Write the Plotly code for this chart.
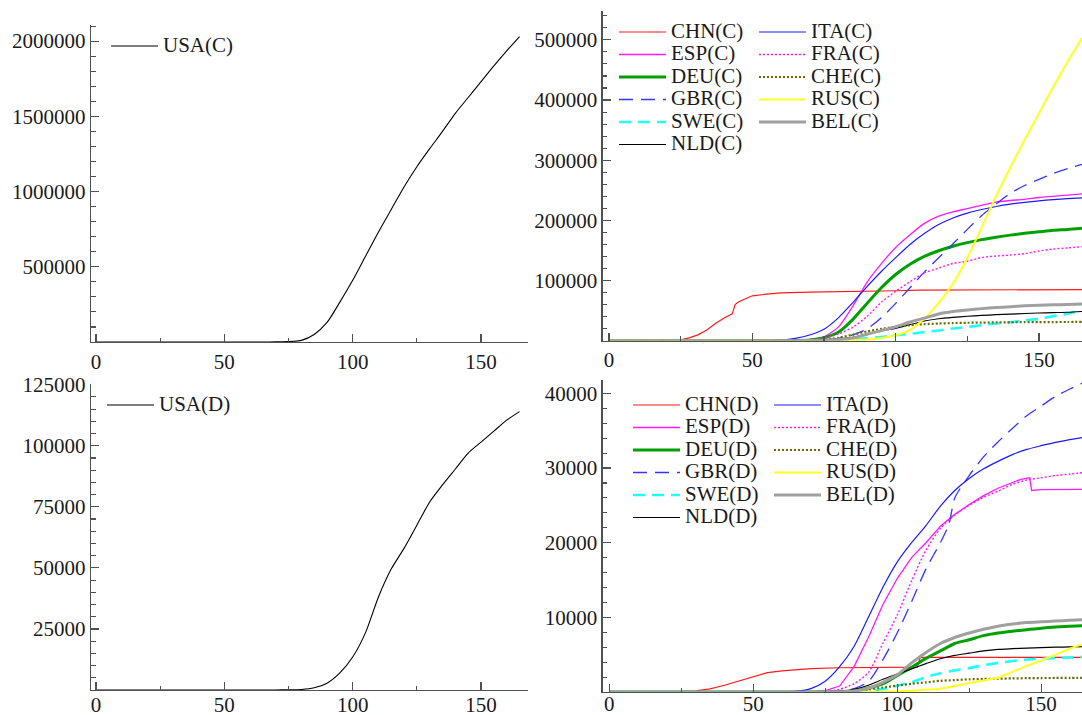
import plotly.graph_objects as go

# ---------------- data (day index) ----------------
DAYS = [0, 50, 55, 60, 65, 70, 75, 80, 85, 90, 95, 100, 105, 110, 115, 120, 125,
        130, 135, 140, 145, 150, 155, 160, 165]

USA_C = [0, 0, 0, 0, 100, 600, 2200, 11000, 50000, 130000, 265000, 410000, 570000,
         730000, 880000, 1030000, 1165000, 1285000, 1400000, 1520000, 1625000,
         1730000, 1835000, 1935000, 2030000]
USA_D = [0, 0, 0, 0, 0, 30, 60, 200, 900, 2800, 7000, 13500, 23500, 38000, 49500,
         58000, 67500, 77000, 84000, 90500, 97000, 101500, 106000, 110500, 114000]

CHN_C_DAYS = [0, 20, 25, 28, 31, 34, 37, 40, 43, 44, 45, 47, 50, 55, 60, 70, 80, 90,
              100, 108, 120, 150, 165]
CHN_C = [0, 300, 1400, 4600, 9700, 17200, 28000, 37200, 44700, 59900, 63900, 68500,
         74600, 77300, 79400, 80800, 81300, 82400, 83000, 84100, 84400, 84600, 85000]
ITA_C = [0, 0, 200, 1100, 4000, 9500, 19000, 38000, 63000, 90000, 115000, 138000,
         160000, 178000, 193000, 204000, 212000, 218000, 223000, 227000, 230000,
         232500, 234500, 236000, 237500]
ESP_C = [0, 0, 0, 40, 300, 1700, 6500, 22500, 57000, 97000, 128000, 155000, 176000,
         195000, 207000, 214000, 219500, 225000, 230500, 233000, 235000, 238000,
         240000, 242000, 244000]
FRA_C = [0, 12, 12, 100, 400, 1800, 4500, 11000, 22300, 40200, 64000, 82000, 98000,
         112600, 120600, 128400, 132000, 138400, 140700, 142400, 144600, 149000,
         152400, 154200, 156300]
DEU_C = [0, 16, 16, 60, 300, 1100, 5000, 14000, 35000, 62000, 88000, 110000, 127000,
         140000, 149500, 157000, 163000, 168000, 172000, 175500, 178500, 181000,
         183500, 185000, 187000]
CHE_C = [0, 0, 0, 20, 90, 500, 2200, 4800, 9900, 15400, 19600, 23300, 25700, 27400,
         28500, 29300, 29800, 30100, 30400, 30600, 30800, 30900, 31000, 31100, 31200]
GBR_C = [0, 0, 9, 20, 100, 400, 1400, 4000, 9500, 19500, 38000, 62000, 88000, 114000,
         138000, 161000, 185000, 208000, 227000, 245000, 258000, 268000, 278000,
         286000, 293000]
RUS_C = [0, 2, 2, 2, 3, 10, 60, 250, 660, 1800, 4500, 9000, 18000, 37000, 63000,
         95000, 138000, 188000, 240000, 288000, 334000, 378000, 422000, 464000, 503000]
SWE_C = [0, 0, 1, 12, 100, 350, 1000, 1600, 2500, 4000, 6100, 9100, 11400, 14400,
         17000, 20300, 22700, 25900, 28600, 30800, 33800, 36500, 40800, 44700, 50900]
BEL_C = [0, 0, 1, 1, 50, 270, 690, 1800, 4300, 10800, 16800, 23000, 31100, 37500,
         44500, 48500, 51000, 53300, 55000, 56500, 57900, 58900, 59600, 60300, 61000]
NLD_C = [0, 0, 0, 1, 40, 380, 1140, 2990, 5560, 10900, 16600, 20500, 26600, 32700,
         36500, 38800, 40600, 42100, 43200, 44200, 45200, 46000, 46700, 47300, 48500]

CHN_D_DAYS = [0, 25, 30, 35, 40, 44, 50, 55, 60, 65, 70, 80, 90, 100, 107, 108, 165]
CHN_D = [0, 56, 170, 425, 910, 1370, 2120, 2600, 2840, 3010, 3140, 3250, 3300, 3340,
         3342, 4632, 4645]
ITA_D = [0, 0, 0, 20, 110, 460, 1450, 3400, 6100, 10000, 14000, 17400, 20000, 22300,
         24900, 27000, 28600, 29900, 30900, 31800, 32500, 33000, 33450, 33800, 34150]
ESP_D_DAYS = [0, 70, 75, 80, 85, 90, 95, 100, 105, 110, 115, 120, 125, 130, 135, 140,
              143, 146, 146.7, 150, 160, 165]
ESP_D = [0, 30, 180, 800, 3400, 7300, 11700, 15200, 18000, 20000, 22200, 23800, 25100,
         26300, 27300, 28000, 28500, 28700, 27000, 27100, 27130, 27140]
FRA_D = [0, 0, 0, 0, 2, 30, 90, 370, 1100, 2600, 6500, 10300, 14900, 19000, 21900,
         23700, 25000, 26100, 26900, 27800, 28400, 28700, 29000, 29200, 29400]
DEU_D = [0, 0, 0, 0, 0, 2, 10, 40, 150, 540, 1100, 2200, 3300, 4500, 5500, 6500, 7000,
         7550, 7900, 8150, 8350, 8550, 8700, 8800, 8880]
CHE_D = [0, 0, 0, 0, 0, 1, 10, 40, 150, 350, 600, 850, 1100, 1300, 1500, 1600, 1700,
         1750, 1790, 1820, 1850, 1870, 1880, 1890, 1900]
GBR_D_DAYS = [0, 70, 75, 80, 85, 90, 95, 100, 105, 110, 115, 118, 120, 125, 130, 135,
              140, 145, 150, 155, 160, 165]
GBR_D = [0, 1, 20, 180, 460, 1400, 4300, 7900, 12100, 16500, 20000, 22500, 26000,
         29000, 31500, 33500, 35300, 37000, 38300, 39600, 40600, 41500]
RUS_D = [0, 0, 0, 0, 0, 0, 0, 0, 0, 5, 30, 80, 170, 300, 450, 800, 1200, 1550, 1900,
         2700, 3500, 4200, 5000, 5800, 6500]
SWE_D = [0, 0, 0, 0, 0, 0, 3, 20, 60, 150, 400, 850, 1300, 2000, 2500, 2900, 3200,
         3600, 3900, 4150, 4350, 4450, 4550, 4620, 4700]
BEL_D = [0, 0, 0, 0, 0, 0, 4, 20, 120, 500, 1300, 2300, 3900, 5300, 6500, 7300, 7900,
         8400, 8800, 9100, 9300, 9400, 9500, 9600, 9680]
NLD_D = [0, 0, 0, 0, 0, 3, 20, 110, 350, 900, 1700, 2400, 3100, 3800, 4450, 4900,
         5200, 5500, 5700, 5800, 5880, 5950, 6000, 6040, 6070]

X_TICKS = [0, 50, 100, 150]

# ---------------- styles ----------------
FONT = "Liberation Serif"
STYLE = {
    "CHN": dict(color="#ff1a1a", width=1.2, dash="solid"),
    "ITA": dict(color="#1a1aff", width=1.2, dash="solid"),
    "ESP": dict(color="#ff1aff", width=1.3, dash="solid"),
    "FRA": dict(color="#ff1aff", width=1.4, dash="2px,2px"),
    "DEU": dict(color="#00a000", width=3.0, dash="solid"),
    "CHE": dict(color="#6b6b00", width=2.2, dash="2px,2px"),
    "GBR": dict(color="#3535ff", width=1.3, dash="14px,8px"),
    "RUS": dict(color="#ffff20", width=2.0, dash="solid"),
    "SWE": dict(color="#20ffff", width=2.6, dash="12px,7px"),
    "BEL": dict(color="#a0a0a0", width=3.0, dash="solid"),
    "NLD": dict(color="#000000", width=1.2, dash="solid"),
    "USA": dict(color="#000000", width=1.1, dash="solid"),
}
LINEAR = {"CHN"}

W, H = 1082, 715


def xd(a, b):
    return [a / W, b / W]


def yd(top, bottom):
    return [1 - bottom / H, 1 - top / H]


def lbl(name):
    return '<span style="font-size:21px">' + name + "</span>"


fig = go.Figure()


def add(x, y, code, suffix, xa, ya, legend, shape=None):
    if shape is None:
        shape = "linear" if code in LINEAR else "spline"
    line = dict(STYLE[code], shape=shape)
    if shape == "spline":
        line["smoothing"] = 0.7
    fig.add_trace(go.Scatter(
        x=x, y=y, mode="lines", name=lbl(code + "(" + suffix + ")"),
        line=line, xaxis=xa, yaxis=ya, legend=legend, hoverinfo="skip"))


# left column: USA
add(DAYS, USA_C, "USA", "C", "x", "y", "legend")
add(DAYS, USA_D, "USA", "D", "x3", "y3", "legend2")

# top-right: cases
cases = [("CHN", CHN_C_DAYS, CHN_C, "legend3"), ("ESP", DAYS, ESP_C, "legend3"),
         ("DEU", DAYS, DEU_C, "legend3"), ("GBR", DAYS, GBR_C, "legend3"),
         ("SWE", DAYS, SWE_C, "legend3"), ("NLD", DAYS, NLD_C, "legend3"),
         ("ITA", DAYS, ITA_C, "legend4"), ("FRA", DAYS, FRA_C, "legend4"),
         ("CHE", DAYS, CHE_C, "legend4"), ("RUS", DAYS, RUS_C, "legend4"),
         ("BEL", DAYS, BEL_C, "legend4")]
for code, xs, ys, lg in cases:
    add(xs, ys, code, "C", "x2", "y2", lg)

# bottom-right: deaths
deaths = [("CHN", CHN_D_DAYS, CHN_D, "legend5"), ("ESP", ESP_D_DAYS, ESP_D, "legend5"),
          ("DEU", DAYS, DEU_D, "legend5"), ("GBR", GBR_D_DAYS, GBR_D, "legend5"),
          ("SWE", DAYS, SWE_D, "legend5"), ("NLD", DAYS, NLD_D, "legend5"),
          ("ITA", DAYS, ITA_D, "legend6"), ("FRA", DAYS, FRA_D, "legend6"),
          ("CHE", DAYS, CHE_D, "legend6"), ("RUS", DAYS, RUS_D, "legend6"),
          ("BEL", DAYS, BEL_D, "legend6")]
for code, xs, ys, lg in deaths:
    shape = "linear" if code in ("CHN", "ESP") else None
    add(xs, ys, code, "D", "x4", "y4", lg, shape)

AX = dict(showgrid=False, zeroline=False, showline=True, linecolor="#505050",
          linewidth=1.3, ticks="inside", ticklen=8, tickwidth=1.2, tickcolor="#505050",
          tickfont=dict(family=FONT, size=21, color="#1a1a1a"), tickformat="d",
          mirror=False, layer="above traces", fixedrange=True, automargin=False)


def xaxis(domain, rng, anchor, standoff=0):
    return dict(AX, domain=domain, range=rng, anchor=anchor, tickmode="array",
                tickvals=X_TICKS, ticklabelstandoff=standoff,
                minor=dict(tickmode="linear", tick0=0, dtick=25, ticks="inside",
                           ticklen=4.5, tickwidth=1.1, tickcolor="#505050"))


def yaxis(domain, rng, anchor, major, minor):
    vals = [major * k for k in range(1, 6) if major * k <= rng[1]]
    return dict(AX, domain=domain, range=rng, anchor=anchor, tickmode="array",
                tickvals=vals,
                minor=dict(tickmode="linear", tick0=0, dtick=minor, ticks="inside",
                           ticklen=4.5, tickwidth=1.1, tickcolor="#505050"))


LEG = dict(bgcolor="rgba(0,0,0,0)", font=dict(family=FONT, size=15, color="#1a1a1a"),
           itemwidth=47, xanchor="left", yanchor="top", tracegroupgap=0,
           itemclick=False, itemdoubleclick=False)

fig.update_layout(
    width=W, height=H, margin=dict(l=0, r=0, t=0, b=0, pad=0, autoexpand=False),
    paper_bgcolor="white", plot_bgcolor="white", showlegend=True,
    xaxis=xaxis(xd(91, 528), [-1.95, 168.3], "y"),
    yaxis=yaxis(yd(25, 342), [0, 2107000], "x", 500000, 100000),
    xaxis3=xaxis(xd(91, 528), [-1.95, 168.3], "y3", -5),
    yaxis3=yaxis(yd(384, 690), [0, 125300], "x3", 25000, 5000),
    xaxis2=xaxis(xd(602.7, 1082), [-2.2, 165.0], "y2"),
    yaxis2=yaxis(yd(11, 340.7), [0, 548000], "x2", 100000, 20000),
    xaxis4=xaxis(xd(602.7, 1082), [-2.3, 164.2], "y4", -8),
    yaxis4=yaxis(yd(380, 692), [0, 41800], "x4", 10000, 2000),
    legend=dict(LEG, x=106 / W, y=1 - 29.75 / H),
    legend2=dict(LEG, x=102 / W, y=1 - 388.75 / H),
    legend3=dict(LEG, x=614 / W, y=1 - 15.75 / H),
    legend4=dict(LEG, x=754 / W, y=1 - 15.75 / H),
    legend5=dict(LEG, x=628 / W, y=1 - 388.75 / H),
    legend6=dict(LEG, x=769 / W, y=1 - 388.75 / H),
)

fig.write_html("out.html",
               config={"displayModeBar": False, "staticPlot": True},
               post_script="document.body.style.margin='0px';"
                           "document.body.style.overflow='hidden';")
